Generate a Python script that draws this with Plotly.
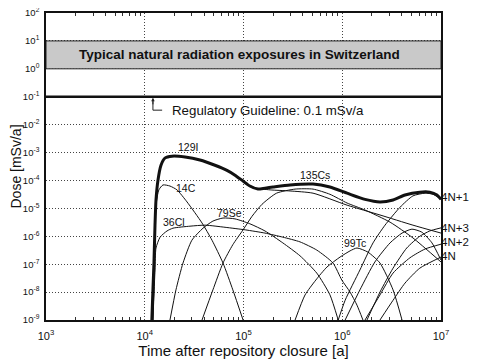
import plotly.graph_objects as go

# ---------------- data ----------------
t_total = [1.18e4, 1.21e4, 1.24e4, 1.27e4, 1.30e4, 1.36e4, 1.46e4, 1.60e4, 1.89e4, 2.56e4, 3.62e4,
           5.14e4, 6.8e4, 8.2e4, 9.9e4, 1.16e5, 1.40e5, 1.65e5, 1.99e5, 2.96e5, 5.06e5, 7.5e5,
           1.12e6, 1.70e6, 2.41e6, 3.27e6, 4.32e6, 6.1e6, 7.7e6, 9.1e6, 1.0e7]
dose_total = [1e-9, 1.2e-8, 1.2e-7, 2.5e-6, 2e-5, 1e-4, 3.5e-4, 6.3e-4, 7.4e-4, 6.9e-4, 5.4e-4,
              3.5e-4, 2.3e-4, 1.55e-4, 9.5e-5, 6.3e-5, 4.9e-5, 5.3e-5, 5.8e-5, 6.9e-5, 7.4e-5, 5.8e-5,
              3.5e-5, 2.1e-5, 1.7e-5, 2e-5, 3e-5, 3.8e-5, 3.8e-5, 3e-5, 2.1e-5]

t_i129 = [9.9e4, 1.31e5, 1.86e5, 2.96e5, 5.06e5, 1.12e6, 2.41e6, 5.2e6, 1.0e7]
dose_i129 = [8.7e-5, 5.4e-5, 4.6e-5, 4.2e-5, 3.5e-5, 1.3e-5, 5.8e-6, 2.5e-6, 1.3e-6]

t_c14 = [1.21e4, 1.27e4, 1.30e4, 1.39e4, 1.53e4, 1.8e4, 2.12e4, 2.68e4, 3.8e4, 4.8e4, 6.2e4, 7.8e4, 9.9e4]
dose_c14 = [1e-9, 7.2e-7, 1.3e-5, 4.6e-5, 6.9e-5, 6.3e-5, 4.6e-5, 1.7e-5, 3e-6, 7.2e-7, 1.1e-7, 1.2e-8, 1e-9]

t_cl36 = [1.21e4, 1.27e4, 1.30e4, 1.43e4, 1.68e4, 1.93e4, 2.87e4, 4.1e4, 6.5e4, 1.04e5, 1.65e5,
          2.5e5, 3.73e5, 5.52e5, 8.06e5, 9.9e5, 1.2e6, 1.41e6, 1.62e6]
dose_cl36 = [1e-9, 6.2e-8, 3.8e-7, 9.3e-7, 1.55e-6, 1.95e-6, 2.3e-6, 2.5e-6, 2.1e-6, 1.7e-6, 1.3e-6,
             9.3e-7, 6.3e-7, 3.2e-7, 1.1e-7, 2.7e-8, 1e-8, 3.4e-9, 1e-9]

t_se79 = [1.8e4, 2.07e4, 2.44e4, 3.0e4, 3.89e4, 4.9e4, 6.2e4, 8.2e4, 1.16e5, 1.65e5, 2.5e5,
          3.73e5, 5.52e5, 7.5e5, 9.1e5]
dose_se79 = [1e-9, 1.2e-8, 1.1e-7, 7.2e-7, 1.95e-6, 3.5e-6, 4.5e-6, 4.2e-6, 2.8e-6, 1.55e-6, 5.8e-7,
             2e-7, 4.8e-8, 8e-9, 1e-9]

t_cs135 = [3.8e4, 4.9e4, 6.2e4, 7.8e4, 9.9e4, 1.22e5, 1.54e5, 2.16e5, 3.33e5, 5.06e5, 7.5e5,
           1.12e6, 1.7e6, 3.05e6, 5.2e6, 1.0e7]
dose_cs135 = [1e-9, 1.2e-8, 1.1e-7, 5e-7, 1.7e-6, 5.2e-6, 1.4e-5, 3.5e-5, 4.9e-5, 4.9e-5, 3.2e-5,
              1.55e-5, 8.7e-6, 3.2e-6, 8.7e-7, 1.2e-7]

t_tc99 = [3.33e5, 4.2e5, 5.4e5, 7.0e5, 9.5e5, 1.2e6, 1.41e6, 1.82e6, 2.41e6, 3.27e6, 4.03e6]
dose_tc99 = [1e-9, 7.9e-9, 2.7e-8, 7.9e-8, 1.8e-7, 3e-7, 3.8e-7, 2.7e-7, 1.1e-7, 1.2e-8, 1e-9]

t_4n1 = [9.1e5, 1.07e6, 1.51e6, 2.05e6, 2.71e6, 3.85e6, 5.2e6, 6.9e6, 8.3e6, 1.0e7]
dose_4n1 = [1e-9, 5.1e-9, 6.2e-8, 5.8e-7, 2.5e-6, 1.1e-5, 2.8e-5, 3.5e-5, 3.2e-5, 2.1e-5]

t_4n3 = [1.78e6, 2.41e6, 3.27e6, 4.5e6, 6.1e6, 7.7e6, 1.0e7]
dose_4n3 = [1e-9, 1e-8, 7.2e-8, 3.8e-7, 1e-6, 1.55e-6, 2e-6]

t_4n2 = [1.7e6, 2.41e6, 3.27e6, 4.85e6, 6.9e6, 1.0e7]
dose_4n2 = [1e-9, 7.9e-9, 4.8e-8, 1.7e-7, 3.5e-7, 5.2e-7]

t_4n = [2.41e6, 3.27e6, 4.32e6, 6.1e6, 1.0e7]
dose_4n = [1e-9, 5.1e-9, 2.1e-8, 7.2e-8, 1.8e-7]

t_chain = [1.07e6, 1.51e6, 2.14e6, 3.05e6, 4.03e6, 5.08e6, 6.4e6, 8.1e6, 1.0e7]
dose_chain = [1e-9, 1.2e-8, 1.2e-7, 5.8e-7, 1.3e-6, 1.8e-6, 1.4e-6, 5.8e-7, 1.4e-7]

x_exponents = [3, 4, 5, 6, 7]
x_tickvals = [10.0 ** e for e in x_exponents]
x_ticktext = ["10<sup>%d</sup>" % e for e in x_exponents]
x_minor = [m * 10.0 ** e for e in [3, 4, 5, 6] for m in range(2, 10)]
y_exponents = [2, 1, 0, -1, -2, -3, -4, -5, -6, -7, -8, -9]
y_tickvals = [10.0 ** e for e in y_exponents]
y_ticktext = ["10<sup>%d</sup>" % e for e in y_exponents]

natural_band = [1.0, 10.0]
guideline = 0.1

# curve labels: (text, log10 time, log10 dose)
curve_labels = [("129I", 4.44, -2.80), ("14C", 4.42, -4.27), ("36Cl", 4.30, -5.49),
                ("79Se", 4.86, -5.17), ("135Cs", 5.72, -3.81), ("99Tc", 6.13, -6.24)]
chain_names = ["4N+1", "4N+3", "4N+2", "4N"]
chain_label_dose = [2.3e-5, 1.8e-6, 5.8e-7, 1.8e-7]

FONT = "Liberation Sans, Arial, sans-serif"
INK = "#111"

fig = go.Figure()

thin = [(t_i129, dose_i129), (t_c14, dose_c14), (t_cl36, dose_cl36), (t_se79, dose_se79),
        (t_cs135, dose_cs135), (t_tc99, dose_tc99), (t_4n1, dose_4n1), (t_4n3, dose_4n3),
        (t_4n2, dose_4n2), (t_4n, dose_4n), (t_chain, dose_chain)]
for tx, dy in thin:
    fig.add_trace(go.Scatter(x=tx, y=dy, mode="lines",
                             line=dict(color=INK, width=1, shape="spline", smoothing=0.6),
                             showlegend=False, hoverinfo="skip"))

fig.add_trace(go.Scatter(x=t_total, y=dose_total, mode="lines",
                         line=dict(color=INK, width=3, shape="spline", smoothing=0.6),
                         showlegend=False, hoverinfo="skip"))

# guideline line
fig.add_trace(go.Scatter(x=[1e3, 1e7], y=[guideline, guideline], mode="lines",
                         line=dict(color=INK, width=2.5), showlegend=False, hoverinfo="skip"))

# chain labels right of the plot
fig.add_trace(go.Scatter(x=[1e7] * len(chain_names), y=chain_label_dose, mode="text",
                         text=chain_names, textposition="middle right",
                         textfont=dict(family=FONT, size=11.5, color=INK),
                         cliponaxis=False, showlegend=False, hoverinfo="skip"))

# natural exposure band
fig.add_shape(type="rect", xref="x", yref="y", x0=1e3, x1=1e7, y0=natural_band[0], y1=natural_band[1],
              fillcolor="#c9c9c9", line=dict(color="#222", width=1), layer="above")
fig.add_annotation(x=0.491, xref="x domain", y=0.5, yref="y",
                   text="<b>Typical natural radiation exposures in Switzerland</b>", showarrow=False,
                   font=dict(family=FONT, size=13.5, color=INK))

# guideline annotation with elbow arrow
fig.add_shape(type="line", xref="x", yref="y", x0=1.21e4, x1=1.21e4, y0=0.078, y1=0.033,
              line=dict(color="#222", width=1))
fig.add_shape(type="line", xref="x", yref="y", x0=1.21e4, x1=1.5e4, y0=0.033, y1=0.033,
              line=dict(color="#222", width=1))
fig.add_annotation(x=4.083, y=-1.04, xref="x", yref="y", ax=0, ay=8,
                   showarrow=True, arrowhead=2, arrowsize=0.7, arrowwidth=1, arrowcolor="#222", text="")
fig.add_annotation(x=4.256, y=-1.48, xref="x", yref="y", xanchor="left",
                   text="Regulatory Guideline: 0.1 mSv/a",
                   showarrow=False, font=dict(family=FONT, size=13.3, color=INK))

for txt, lx, ly in curve_labels:
    fig.add_annotation(x=lx, y=ly, xref="x", yref="y", text=txt, showarrow=False,
                       font=dict(family=FONT, size=10.5, color=INK))

# the page body adds an 8px offset, so the margins are shifted to compensate
fig.update_layout(
    width=478, height=360,
    margin=dict(l=38, r=45, t=5, b=48, autoexpand=False),
    paper_bgcolor="white", plot_bgcolor="white",
    font=dict(family=FONT, color=INK),
    xaxis=dict(type="log", range=[3, 7], tickvals=x_tickvals, ticktext=x_ticktext, automargin=False,
               tickfont=dict(size=11), showgrid=True, gridcolor="#444", griddash="1px,2px", gridwidth=1,
               showline=True, linecolor=INK, linewidth=1.5, mirror="allticks", ticks="", zeroline=False,
               ticklabeloverflow="allow", ticklabelstandoff=5,
               minor=dict(tickvals=x_minor, ticks="inside", ticklen=3, tickcolor="#333", showgrid=False),
               title=dict(text="Time after repository closure [a]", font=dict(size=15), standoff=2)),
    yaxis=dict(type="log", range=[-9, 2], tickvals=y_tickvals, ticktext=y_ticktext, automargin=False,
               tickfont=dict(size=9.5), showgrid=True, gridcolor="#444", griddash="1px,2px", gridwidth=1,
               showline=True, linecolor=INK, linewidth=1.5, mirror=True, ticks="", zeroline=False,
               ticklabeloverflow="allow", ticklabelstandoff=3,
               title=dict(text="Dose [mSv/a]", font=dict(size=14), standoff=2)),
)

fig.write_html("out.html")
